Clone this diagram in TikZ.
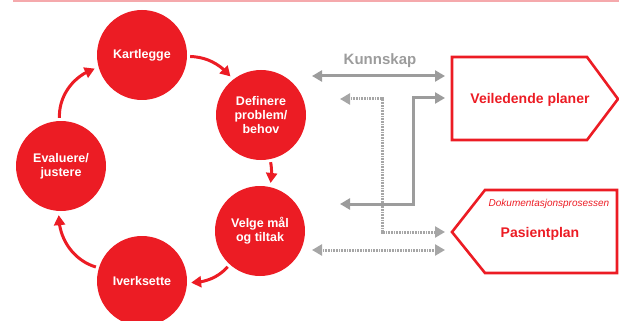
\documentclass[tikz,border=0pt]{standalone}
\usepackage{fontspec}
\setmainfont{Liberation Sans}
\usetikzlibrary{positioning, calc, arrows.meta, bending}
\definecolor{stepred}{HTML}{EC1C24}
\definecolor{flowgray}{HTML}{9C9C9C}
\definecolor{dotgray}{HTML}{A6A6A6}
\definecolor{linepink}{HTML}{F5A9AC}
\tikzset{phase/.style={circle, fill=stepred, minimum size=90pt, inner sep=0pt, align=center, text=white, font=\bfseries\fontsize{12.5}{14}\selectfont}}
\tikzset{cyclearrow/.style={draw=stepred, line width=3pt, -{Triangle[length=10pt,width=11pt]}, shorten <=3pt, shorten >=4pt}}
\tikzset{know/.style={draw=flowgray, line width=3pt, {Triangle[length=10pt,width=11pt]}-{Triangle[length=10pt,width=11pt]}}}
\tikzset{knowdot/.style={know, draw=dotgray, dash pattern=on 1pt off 0.6pt}}
\tikzset{planbox/.style={draw=stepred, line width=2.6pt, line join=miter}}
\tikzset{plantext/.style={text=stepred, font=\bfseries\fontsize{14}{16}\selectfont}}

\begin{document}
\begin{tikzpicture}[x=1pt, y=1pt]
      \useasboundingbox (0,0) rectangle (619,-321);
      \draw[linepink, line width=1.5pt] (13,-1) -- (619,-1);

      % the cycle
      \node[phase] (kart) at (142,-55) {Kartlegge};
      \node[phase] (def) at (261,-115) {Definere\\problem/\\behov};
      \node[phase] (velge) at (260,-231) {Velge mål\\og tiltak};
      \node[phase] (iverk) at (142,-281) {Iverksette};
      \node[phase] (eval) at (61,-166) {Evaluere/\\justere};

      \draw[cyclearrow] (kart) to[bend left=25] (def);
      \draw[cyclearrow] (def) to[bend left=12] (velge);
      \draw[cyclearrow] (velge) to[bend left=25] (iverk);
      \draw[cyclearrow] (iverk) to[bend left=38] (eval);
      \draw[cyclearrow] (eval) to[bend left=38] (kart);

      % the plans
      \draw[planbox] (452,-57) -- (587,-57) -- (618,-99) -- (587,-140) -- (452,-140) -- cycle;
      \node[plantext] (veil) at (530,-100) {Veiledende planer};
      \draw[planbox] (452,-232) -- (485,-190) -- (617,-190) -- (617,-273) -- (485,-273) -- cycle;
      \node[text=stepred, font=\itshape\fontsize{10}{11}\selectfont] (dok) at (549,-204) {Dokumentasjonsprosessen};
      \node[plantext] (pas) at (540,-234) {Pasientplan};

      % knowledge flows
      \coordinate (k1l) at (312,-76);
      \coordinate (k1r) at (445,-76);
      \coordinate (k2l) at (340,-99);
      \coordinate (k2r) at (445,-232);
      \coordinate (k3l) at (340,-204);
      \coordinate (k3r) at (445,-98);
      \coordinate (k4l) at (312,-250);
      \coordinate (k4r) at (445,-250);

      \node[text=flowgray, font=\bfseries\fontsize{15}{18}\selectfont] (kunn) at (380,-61) {Kunnskap};
      \draw[know] (k1l) -- (k1r);
      \draw[knowdot] (k2l) -| (382,-232) -- (k2r);
      \draw[know] (k3l) -- (413,-204) |- (k3r);
      \draw[knowdot] (k4l) -- (k4r);
\end{tikzpicture}
\end{document}
